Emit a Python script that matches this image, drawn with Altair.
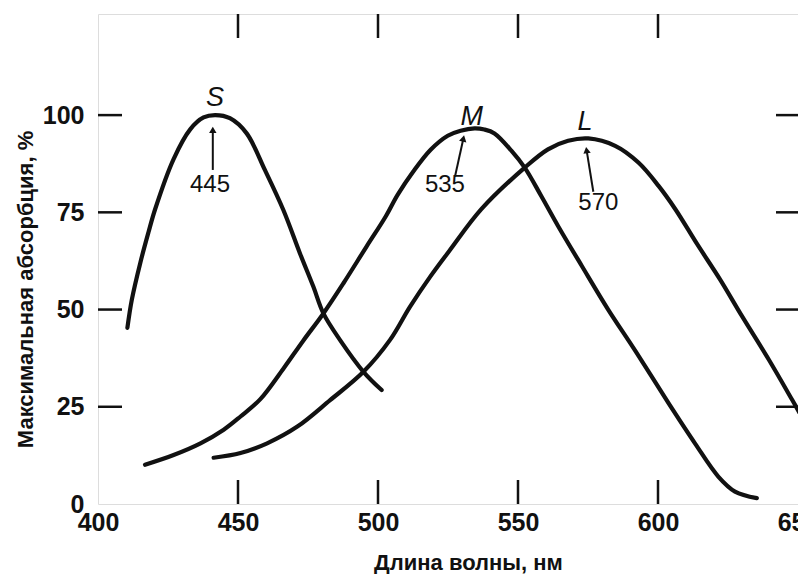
import math
import altair as alt
import pandas as pd

# ---------------- data ----------------
S_WL = [410.5, 412.1, 415.1, 418.0, 420.4, 427.0, 433.0, 437.7, 441.9, 447.1,
        453.1, 459.6, 466.2, 472.1, 476.9, 480.5, 486.4, 494.8, 501.3]
S_VAL = [45.3, 52.6, 62.0, 69.8, 75.8, 88.7, 96.4, 99.4, 100.0, 99.2,
         95.3, 85.9, 75.6, 64.5, 55.9, 49.0, 42.2, 34.0, 29.3]

M_WL = [416.8, 427.0, 436.6, 444.9, 450.9, 457.9, 466.2, 473.3, 480.5, 487.6,
        495.9, 502.8, 507.0, 512.6, 518.8, 524.9, 529.5, 534.5, 538.0, 541.6,
        547.7, 552.4, 558.3, 564.3, 572.8, 582.2, 591.8, 603.7, 613.2, 621.6,
        627.5, 635.3]
M_VAL = [10.1, 12.6, 15.6, 19.1, 22.5, 26.9, 34.8, 42.0, 49.0, 56.7,
         66.2, 74.0, 79.5, 85.5, 91.1, 94.7, 96.0, 96.6, 96.3, 95.3,
         90.8, 86.5, 79.2, 71.5, 61.2, 50.0, 39.5, 26.0, 15.6, 7.0,
         3.2, 1.5]

L_WL = [441.3, 450.9, 460.4, 471.2, 482.9, 494.8, 504.3, 511.4, 518.6, 525.7,
        536.9, 552.4, 560.7, 567.9, 575.1, 584.7, 593.0, 600.2, 606.2, 614.0,
        622.2, 630.0, 639.6, 647.9, 650.5]
L_VAL = [11.9, 13.1, 15.6, 19.9, 26.7, 34.0, 42.2, 50.7, 58.4, 65.3,
         75.8, 86.5, 91.2, 93.4, 94.0, 92.1, 87.8, 81.8, 75.8, 66.8,
         57.7, 48.3, 37.1, 26.8, 23.5]

# curve names and where they are written
NAMES = ["S", "M", "L"]
NAME_WL = [441.8, 533.5, 573.9]
NAME_VAL = [104.3, 99.6, 98.3]

# peak annotations: label text, label position, arrow tail and tip
PEAK_TEXT = ["445", "535", "570"]
PEAK_WL = [440.0, 523.9, 578.7]
PEAK_VAL = [82.0, 82.0, 77.3]
ARROW_TAIL_WL = [441.0, 527.5, 576.9]
ARROW_TAIL_VAL = [85.9, 84.2, 80.3]
ARROW_TIP_WL = [441.0, 530.5, 574.5]
ARROW_TIP_VAL = [96.2, 94.0, 91.0]

X_LABELS = [400, 450, 500, 550, 600, 650]
Y_LABELS = [0, 25, 50, 75, 100]
X_INNER_TICKS = [450, 500, 550, 600]
Y_INNER_TICKS = [25, 50, 75, 100]

X_TITLE = "Длина волны, нм"
Y_TITLE = "Максимальная абсорбция, %"

# ---------------- layout ----------------
W, H = 700, 490
X_DOM = [400, 650]
Y_DOM = [0, 126]
FONT = "Liberation Sans, Arial, sans-serif"
INK = "#111111"

rows = []
for name, wl, val in (("S", S_WL, S_VAL), ("M", M_WL, M_VAL), ("L", L_WL, L_VAL)):
    for i, (a, b) in enumerate(zip(wl, val)):
        rows.append({"series": name, "idx": i, "wl": a, "val": b})
curves = pd.DataFrame(rows)

px_nm = W / (X_DOM[1] - X_DOM[0])
px_unit = H / (Y_DOM[1] - Y_DOM[0])
arrows = pd.DataFrame({
    "wl": ARROW_TAIL_WL, "val": ARROW_TAIL_VAL,
    "wl2": ARROW_TIP_WL, "val2": ARROW_TIP_VAL,
})
arrows["ang"] = [
    (math.degrees(math.atan2((b - a) * px_nm, (d - c) * px_unit)) + 360) % 360
    for a, b, c, d in zip(ARROW_TAIL_WL, ARROW_TIP_WL, ARROW_TAIL_VAL, ARROW_TIP_VAL)
]

xs = alt.Scale(domain=X_DOM, nice=False, zero=False)
ys = alt.Scale(domain=Y_DOM, nice=False, zero=True)

x_axis = alt.Axis(values=X_LABELS, title=X_TITLE, grid=False, domain=False, ticks=False,
                  labelFont=FONT, labelFontSize=25, labelFontWeight="bold", labelColor=INK,
                  labelPadding=6, labelFlush=False, labelOverlap=False,
                  titleFont=FONT, titleFontSize=22, titleFontWeight="bold", titleColor=INK,
                  titleX=370, titleY=65, titleBaseline="alphabetic", titleAlign="center")
y_axis = alt.Axis(values=Y_LABELS, title=Y_TITLE, grid=False, domain=False, ticks=False,
                  labelFont=FONT, labelFontSize=25, labelFontWeight="bold", labelColor=INK,
                  labelPadding=14, labelBaseline="middle", labelFlush=False, labelOverlap=False,
                  titleFont=FONT, titleFontSize=22, titleFontWeight="bold", titleColor=INK,
                  titleX=-73, titleY=275, titleAngle=270, titleBaseline="middle",
                  titleAlign="center")

X = lambda f="wl": alt.X(f"{f}:Q", scale=xs, axis=x_axis)
Y = lambda f="val": alt.Y(f"{f}:Q", scale=ys, axis=y_axis)

lines = alt.Chart(curves).mark_line(
    interpolate="catmull-rom", strokeWidth=4.2, color=INK, strokeCap="round"
).encode(x=X(), y=Y(), detail="series:N", order="idx:Q")

names = alt.Chart(pd.DataFrame({"t": NAMES, "wl": NAME_WL, "val": NAME_VAL})).mark_text(
    font=FONT, fontSize=27, fontStyle="italic",
    color=INK, baseline="middle", align="center"
).encode(x=X(), y=Y(), text="t:N")

peaks = alt.Chart(pd.DataFrame({"t": PEAK_TEXT, "wl": PEAK_WL, "val": PEAK_VAL})).mark_text(
    font=FONT, fontSize=24, color=INK, baseline="middle", align="center"
).encode(x=X(), y=Y(), text="t:N")

arrow_lines = alt.Chart(arrows).mark_rule(strokeWidth=2, color=INK).encode(
    x=X(), y=Y(), x2="wl2:Q", y2="val2:Q")
arrow_heads = alt.Chart(arrows).mark_point(
    shape="triangle-up", filled=True, size=55, color=INK, opacity=1
).encode(x=X("wl2"), y=Y("val2"), angle=alt.Angle("ang:Q", scale=None))

xt = pd.DataFrame({"wl": X_INNER_TICKS})
yt = pd.DataFrame({"val": Y_INNER_TICKS})
tick_bottom = alt.Chart(xt).mark_rule(strokeWidth=2.5, color=INK).encode(
    x=X(), y=alt.value(H), y2=alt.value(H - 24))
tick_top = alt.Chart(xt).mark_rule(strokeWidth=2.5, color=INK).encode(
    x=X(), y=alt.value(0), y2=alt.value(24))
tick_left = alt.Chart(yt).mark_rule(strokeWidth=2.5, color=INK).encode(
    y=Y(), x=alt.value(0), x2=alt.value(24))
tick_right = alt.Chart(yt).mark_rule(strokeWidth=2.5, color=INK).encode(
    y=Y(), x=alt.value(W), x2=alt.value(W - 22))

chart = alt.layer(
    tick_bottom, tick_top, tick_left, tick_right,
    lines, arrow_lines, arrow_heads, names, peaks
).properties(
    width=W, height=H,
    autosize=alt.AutoSizeParams(type="none"),
    padding={"left": 90, "top": 6, "right": 0, "bottom": 70},
).configure_view(
    stroke=INK, strokeWidth=3
).configure(background="white")

chart.save("out.html", embed_options={"renderer": "svg", "actions": False})
